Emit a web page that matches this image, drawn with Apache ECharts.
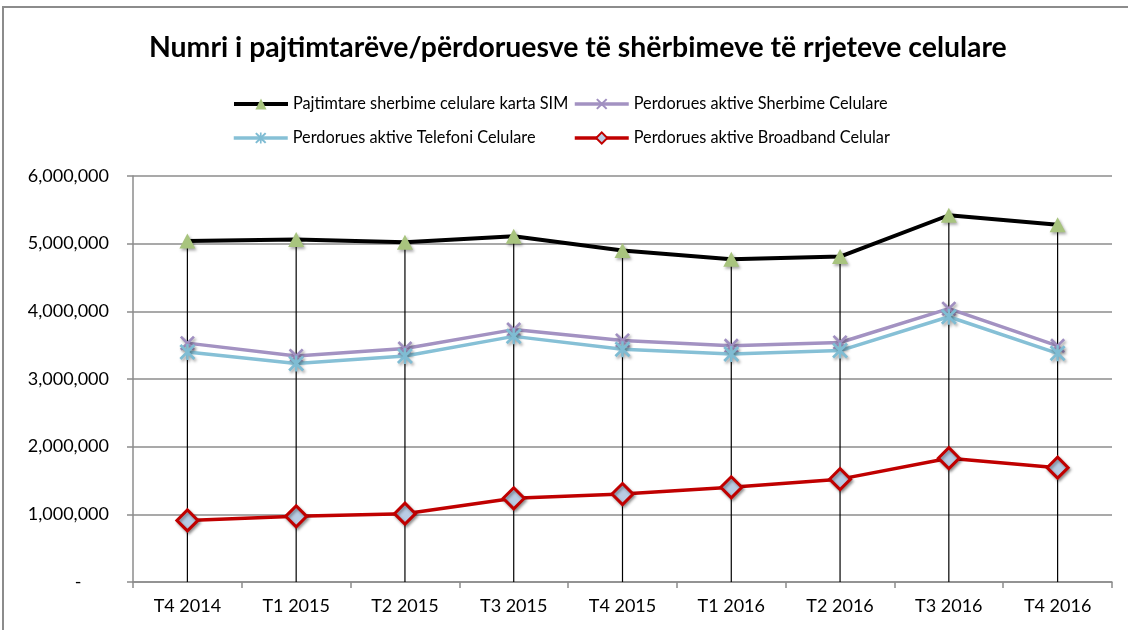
<!DOCTYPE html>
<html>
<head>
<meta charset="utf-8">
<script src="https://cdn.jsdelivr.net/npm/echarts@6/dist/echarts.min.js"></script>
<style>
html,body{margin:0;padding:0;background:#fff;}
#chart{width:1128px;height:630px;}
</style>
</head>
<body>
<div id="chart"></div>
<script>
var categories = ['T4 2014','T1 2015','T2 2015','T3 2015','T4 2015','T1 2016','T2 2016','T3 2016','T4 2016'];
var simSubs = [5040000, 5060000, 5020000, 5110000, 4900000, 4770000, 4810000, 5420000, 5280000];
var activeServices = [3530000, 3340000, 3450000, 3730000, 3570000, 3490000, 3540000, 4040000, 3490000];
var activeTelephony = [3400000, 3230000, 3340000, 3630000, 3440000, 3370000, 3420000, 3920000, 3380000];
var activeBroadband = [910000, 970000, 1010000, 1237000, 1300000, 1400000, 1520000, 1830000, 1690000];
var yTicks = [0, 1000000, 2000000, 3000000, 4000000, 5000000, 6000000];

var names = ['Pajtimtare sherbime celulare karta SIM','Perdorues aktive Sherbime Celulare','Perdorues aktive Telefoni Celulare','Perdorues aktive Broadband Celular'];
var FONT = 'Lato';
var xPath = 'path://M2.5,0 L10,7.5 L17.5,0 L20,2.5 L12.5,10 L20,17.5 L17.5,20 L10,12.5 L2.5,20 L0,17.5 L7.5,10 L0,2.5 Z';
var starPath = 'path://M2.5,0 L10,7.5 L17.5,0 L20,2.5 L12.5,10 L20,17.5 L17.5,20 L10,12.5 L2.5,20 L0,17.5 L7.5,10 L0,2.5 Z M8.5,0 L11.5,0 L11.5,20 L8.5,20 Z';
var shadow = {shadowBlur: 3, shadowColor: 'rgba(0,0,0,0.35)', shadowOffsetX: 1.5, shadowOffsetY: 2};

function fmt(v){
  if (v === 0) return '-      ';
  return v.toLocaleString('en-US');
}

function legendAt(name, left, top, w){
  return {data:[name], left:left, top:top, itemWidth:54, itemHeight:14, itemGap:0,
    selectedMode:false, lineStyle:{width:w},
    textStyle:{fontFamily:FONT, fontSize:16.3, color:'#000'}};
}

var chart = echarts.init(document.getElementById('chart'), null, {renderer:'canvas'});
chart.setOption({
  animation:false,
  backgroundColor:'#fff',
  title:{text:'Numri i pajtimtarëve/përdoruesve të shërbimeve të rrjeteve celulare',
    left:144, top:29,
    textStyle:{fontFamily:FONT, fontWeight:'bold', fontSize:28.4, color:'#000'}},
  graphic:[{type:'rect', shape:{x:3, y:7, width:1200, height:700},
    style:{fill:'none', stroke:'#8c8c8c', lineWidth:2}, silent:true}],
  legend:[
    legendAt(names[0], 227, 91, 4),
    legendAt(names[1], 568, 91, 3.5),
    legendAt(names[2], 227, 125, 3.5),
    legendAt(names[3], 568, 125, 3.5)
  ],
  grid:{left:133, right:16, top:176, bottom:48},
  xAxis:{type:'category', data:categories, boundaryGap:true,
    axisLine:{lineStyle:{color:'#8c8c8c', width:1.5}},
    axisTick:{show:true, length:6, lineStyle:{color:'#8c8c8c', width:1.5}},
    axisLabel:{fontFamily:FONT, fontSize:18, color:'#000', margin:15}},
  yAxis:{type:'value', min:0, max:6000000, interval:1000000,
    axisLine:{show:true, lineStyle:{color:'#8c8c8c', width:1.5}},
    axisTick:{show:true, length:6, lineStyle:{color:'#8c8c8c', width:1.5}},
    splitLine:{lineStyle:{color:'#8c8c8c', width:1.5}},
    axisLabel:{fontFamily:FONT, fontSize:18, color:'#000', margin:24, formatter:fmt}},
  series:[
    {name:'drop', type:'bar', data:simSubs, barWidth:1.2, silent:true, z:1,
      itemStyle:{color:'#000'}},
    {name:names[1], type:'line', data:activeServices, z:3,
      lineStyle:{color:'#a392c2', width:3.5},
      symbol:xPath, symbolSize:15,
      itemStyle:Object.assign({color:'#a08fc0'}, shadow)},
    {name:names[2], type:'line', data:activeTelephony, z:4,
      lineStyle:{color:'#86c0d6', width:3.5},
      symbol:starPath, symbolSize:16,
      itemStyle:Object.assign({color:'#7fbcd3'}, shadow)},
    {name:names[0], type:'line', data:simSubs, z:5,
      lineStyle:{color:'#000', width:4},
      symbol:'triangle', symbolSize:[16,15],
      itemStyle:Object.assign({color:'#a8c47e'}, shadow)},
    {name:names[3], type:'line', data:activeBroadband, z:6,
      lineStyle:{color:'#c00000', width:3.5},
      symbol:'diamond', symbolSize:21,
      itemStyle:Object.assign({color:'#b9cce4', borderColor:'#c00000', borderWidth:3}, shadow)}
  ]
});
</script>
</body>
</html>
